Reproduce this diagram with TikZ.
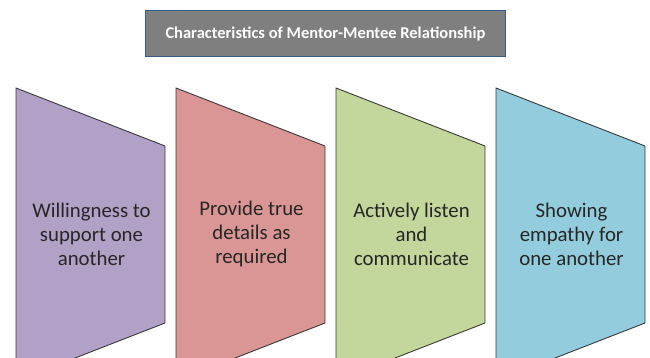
\documentclass[tikz,border=0pt]{standalone}
\usepackage{fontspec}
\setmainfont{Carlito}
\definecolor{titlefill}{HTML}{7F7F7F}
\definecolor{titleedge}{HTML}{385D8A}
\definecolor{panelA}{HTML}{B2A1C7}
\definecolor{panelB}{HTML}{D99694}
\definecolor{panelC}{HTML}{C3D69B}
\definecolor{panelD}{HTML}{93CDDD}
\definecolor{edgegray}{HTML}{3A3A3A}
\definecolor{textgray}{HTML}{262626}
\tikzset{
  titlebox/.style={draw=titleedge, line width=1.2pt, fill=titlefill, text=white,
    font=\fontsize{16.5}{18}\selectfont\bfseries, minimum width=360pt, minimum height=46pt, inner sep=0pt},
  panel/.style={draw=edgegray, line width=0.9pt, line join=miter},
  paneltext/.style={text=textgray, align=center, font=\fontsize{20.8}{24}\selectfont}
}
\begin{document}
\begin{tikzpicture}[x=1pt,y=-1pt]
  \useasboundingbox (0,0) rectangle (650,358);
  \clip (0,0) rectangle (650,358);
  \fill[white] (0,0) rectangle (650,358);
  % title
  \node[titlebox] (title) at (325.5,33.5) {Characteristics of Mentor-Mentee Relationship};
  % four trapezoid panels: tall left side, short right side
  \foreach \i/\col in {0/panelA,1/panelB,2/panelC,3/panelD}{
    \pgfmathsetmacro{\xl}{16+160*\i}
    \pgfmathsetmacro{\xr}{\xl+149}
    \draw[panel, fill=\col] (\xl,88) -- (\xr,146) -- (\xr,323) -- (\xl,381) -- cycle;
  }
  \node[paneltext] (p1) at (91.5,234) {Willingness to\\support one\\another};
  \node[paneltext] (p2) at (251.5,234) {Provide true\\details as\\required};
  \node[paneltext] (p3) at (411.5,234) {Actively listen\\and\\communicate};
  \node[paneltext] (p4) at (571.5,234) {Showing\\empathy for\\one another};
\end{tikzpicture}
\end{document}
